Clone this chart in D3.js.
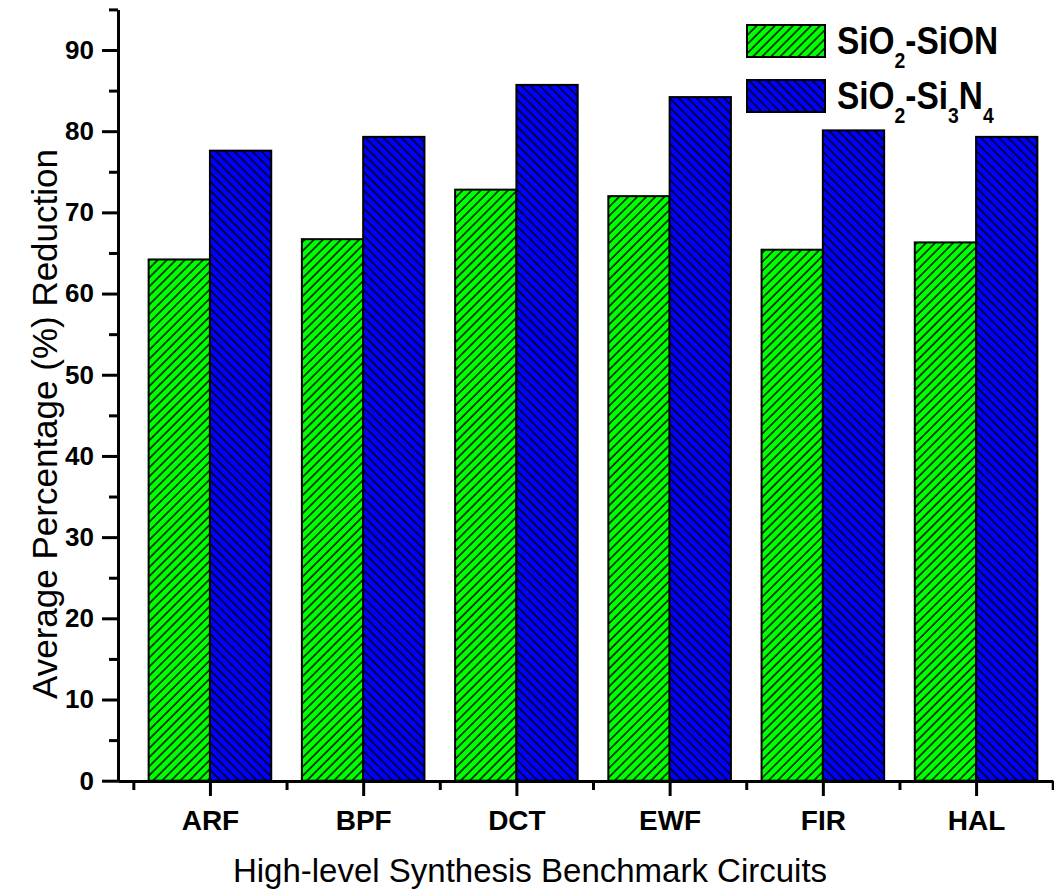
<!DOCTYPE html>
<html>
<head>
<meta charset="utf-8">
<script src="https://cdn.jsdelivr.net/npm/d3@7"></script>
<style>
  body { margin: 0; background: #fff; }
  svg { display: block; font-family: Arial, "Liberation Sans", sans-serif; }
</style>
</head>
<body>
<div id="plot"></div>
<script>
// benchmark circuits and the two series
var circuits = ["ARF", "BPF", "DCT", "EWF", "FIR", "HAL"];
var sionValues = [64.2, 66.7, 72.8, 72.0, 65.4, 66.3];
var si3n4Values = [77.6, 79.3, 85.7, 84.2, 80.1, 79.3];
var yMajorTicks = [0, 10, 20, 30, 40, 50, 60, 70, 80, 90];
var yMinorTicks = [5, 15, 25, 35, 45, 55, 65, 75, 85, 95];

var width = 1054, height = 893;

var svg = d3.select("#plot")
    .append("svg")
    .attr("width", width)
    .attr("height", height);

// hatch patterns, green "/" and blue "\"
var defs = svg.append("defs");
function hatch(id, fill, angle) {
    var p = defs.append("pattern")
        .attr("id", id)
        .attr("patternUnits", "userSpaceOnUse")
        .attr("width", 6.4)
        .attr("height", 6.4)
        .attr("patternTransform", "rotate(" + angle + ")");
    p.append("rect").attr("width", 6.4).attr("height", 6.4).attr("fill", fill);
    p.append("line")
        .attr("x1", 1).attr("y1", 0).attr("x2", 1).attr("y2", 6.4)
        .attr("stroke", "#000").attr("stroke-width", 1.4);
}
hatch("hatchGreen", "#00ff00", 45);
hatch("hatchBlue", "#0000ff", -45);

var x = d3.scaleLinear().domain([0.4, 6.5]).range([118, 1052.7]);
var y = d3.scaleLinear().domain([0, 95]).range([780.7, 9.4]);

var barW = 0.4;

// bars
var series = [
    {values: sionValues, fill: "url(#hatchGreen)", off: -barW},
    {values: si3n4Values, fill: "url(#hatchBlue)", off: 0}
];
series.forEach(function (s) {
    svg.append("g").selectAll("rect")
        .data(s.values)
      .enter().append("rect")
        .attr("x", function (d, i) { return x(i + 1 + s.off); })
        .attr("y", function (d) { return y(d); })
        .attr("width", function () { return x(barW) - x(0); })
        .attr("height", function (d) { return y(0) - y(d); })
        .attr("fill", s.fill)
        .attr("stroke", "#000")
        .attr("stroke-width", 2);
});

// y axis
var yAxisMinor = d3.axisLeft(y).tickValues(yMinorTicks).tickSize(9).tickFormat("").tickSizeOuter(0);
var yAxis = d3.axisLeft(y).tickValues(yMajorTicks).tickSize(16).tickPadding(8).tickSizeOuter(0);

svg.append("g").attr("transform", "translate(118,0)").call(yAxisMinor);
var gy = svg.append("g").attr("transform", "translate(118,0)").call(yAxis);
gy.selectAll("text")
    .style("font-size", "26px")
    .style("font-weight", "bold")
    .attr("fill", "#000");

// x axis
var xMinor = d3.range(0.5, 7, 1);
var xAxisMinor = d3.axisBottom(x).tickValues(xMinor).tickSize(9).tickFormat("").tickSizeOuter(0);
var xAxis = d3.axisBottom(x).tickValues([1, 2, 3, 4, 5, 6])
    .tickFormat(function (d) { return circuits[d - 1]; })
    .tickSize(15).tickPadding(14).tickSizeOuter(0);

svg.append("g").attr("transform", "translate(0,781)").call(xAxisMinor);
var gx = svg.append("g").attr("transform", "translate(0,781)").call(xAxis);
gx.selectAll("text")
    .style("font-size", "28px")
    .style("font-weight", "bold")
    .attr("fill", "#000");

svg.selectAll(".domain, .tick line")
    .attr("stroke", "#000")
    .attr("stroke-width", 3);

// axis titles
svg.append("text")
    .attr("x", 530)
    .attr("y", 882)
    .attr("text-anchor", "middle")
    .style("font-size", "33px")
    .text("High-level Synthesis Benchmark Circuits");

svg.append("text")
    .attr("transform", "translate(57,424) rotate(-90)")
    .attr("text-anchor", "middle")
    .style("font-size", "35px")
    .text("Average Percentage (%) Reduction");

// legend
var legendItems = [
    {fill: "url(#hatchGreen)", parts: [["SiO", 0], ["2", 1], ["-SiON", 0]]},
    {fill: "url(#hatchBlue)", parts: [["SiO", 0], ["2", 1], ["-Si", 0], ["3", 1], ["N", 0], ["4", 1]]}
];
var legend = svg.selectAll(".legend")
    .data(legendItems)
  .enter().append("g")
    .attr("class", "legend")
    .attr("transform", function (d, i) { return "translate(747," + (25 + i * 55) + ")"; });

legend.append("rect")
    .attr("width", 78)
    .attr("height", 32)
    .attr("fill", function (d) { return d.fill; })
    .attr("stroke", "#000")
    .attr("stroke-width", 2);

var lt = legend.append("text")
    .attr("transform", "translate(90,29) scale(0.88,1)")
    .style("font-size", "38px")
    .style("font-weight", "bold");

lt.selectAll("tspan")
    .data(function (d) { return d.parts; })
  .enter().append("tspan")
    .attr("dy", function (p, i, nodes) {
        var prev = i > 0 ? d3.select(nodes[i - 1]).datum()[1] : 0;
        return (p[1] - prev) * 14;
    })
    .style("font-size", function (p) { return p[1] ? "22px" : "38px"; })
    .text(function (p) { return p[0]; });
</script>
</body>
</html>
